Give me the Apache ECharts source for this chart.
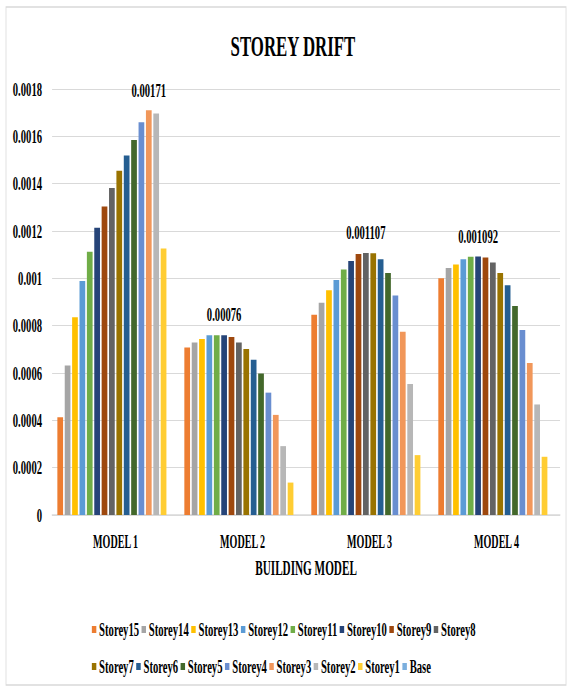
<!DOCTYPE html>
<html>
<head>
<meta charset="utf-8">
<script src="https://cdn.jsdelivr.net/npm/echarts@6/dist/echarts.min.js"></script>
<style>
  html, body { margin: 0; padding: 0; background: #fff; overflow: hidden; }
  #wrap { width: 569px; height: 688px; overflow: hidden; position: relative; }
  /* the chart is laid out wide and compressed horizontally for a condensed look */
  #chart { width: 1016px; height: 688px; transform: scaleX(0.56004); transform-origin: 0 0; }
</style>
</head>
<body>
<div id="wrap"><div id="chart"></div></div>
<script>
const categories = ['MODEL 1', 'MODEL 2', 'MODEL 3', 'MODEL 4'];
const yTicks = [0, 0.0002, 0.0004, 0.0006, 0.0008, 0.001, 0.0012, 0.0014, 0.0016, 0.0018];

const storey15 = [0.000413, 0.000708, 0.000846, 0.001000];
const storey14 = [0.000632, 0.000729, 0.000897, 0.001044];
const storey13 = [0.000836, 0.000744, 0.000950, 0.001058];
const storey12 = [0.000989, 0.000759, 0.000993, 0.001081];
const storey11 = [0.001112, 0.000760, 0.001037, 0.001091];
const storey10 = [0.001214, 0.00076, 0.001073, 0.001092];
const storey9  = [0.001303, 0.000752, 0.001103, 0.001088];
const storey8  = [0.001382, 0.000729, 0.001107, 0.001067];
const storey7  = [0.001455, 0.000701, 0.001106, 0.001023];
const storey6  = [0.001519, 0.000656, 0.001081, 0.000971];
const storey5  = [0.001585, 0.000598, 0.001023, 0.000883];
const storey4  = [0.001660, 0.000517, 0.000927, 0.000782];
const storey3  = [0.00171, 0.000423, 0.000774, 0.000642];
const storey2  = [0.001696, 0.000291, 0.000554, 0.000467];
const storey1  = [0.001126, 0.000137, 0.000253, 0.000246];
const base     = [0, 0, 0, 0];

const seriesNames = ['Storey15', 'Storey14', 'Storey13', 'Storey12', 'Storey11', 'Storey10', 'Storey9', 'Storey8',
                     'Storey7', 'Storey6', 'Storey5', 'Storey4', 'Storey3', 'Storey2', 'Storey1', 'Base'];
const seriesValues = [storey15, storey14, storey13, storey12, storey11, storey10, storey9, storey8,
                      storey7, storey6, storey5, storey4, storey3, storey2, storey1, base];
const seriesColors = ['#ED7D31', '#A5A5A5', '#FFC000', '#5B9BD5', '#70AD47', '#264478', '#9E480E', '#636363',
                      '#997300', '#255E91', '#43682B', '#698ED0', '#F1975A', '#B7B7B7', '#FFCD33', '#7CAFDD'];
// which series carries the value label in each model group
const labelledSeries = ['Storey3', 'Storey10', 'Storey8', 'Storey10'];

const FONT = "'Liberation Serif', 'Times New Roman', serif";

const chart = echarts.init(document.getElementById('chart'), null, { renderer: 'svg' });

const series = seriesNames.map((name, i) => ({
  name: name,
  type: 'bar',
  barGap: '29%',
  barCategoryGap: '8.3%',
  itemStyle: { color: seriesColors[i] },
  label: {
    show: false,
    position: 'top',
    distance: 11,
    fontFamily: FONT,
    fontWeight: 'bold',
    fontSize: 19,
    color: '#000',
    formatter: p => String(p.value)
  },
  data: seriesValues[i].map((v, j) =>
    labelledSeries[j] === name ? { value: v, label: { show: true } } : v)
}));

const legendCommon = {
  orient: 'horizontal',
  left: 164,
  padding: 0,
  itemWidth: 8,
  itemHeight: 7,
  itemGap: 4.3,
  icon: 'rect',
  selectedMode: false,
  textStyle: { fontFamily: FONT, fontWeight: 'bold', fontSize: 19, color: '#000', width: 72 }
};

chart.setOption({
  backgroundColor: '#fff',
  animation: false,
  color: seriesColors,
  title: {
    text: 'STOREY DRIFT',
    left: 518,
    textAlign: 'center',
    top: 25,
    textStyle: { fontFamily: FONT, fontWeight: 'bold', fontSize: 30, color: '#000' }
  },
  legend: [
    Object.assign({ top: 620, data: seriesNames.slice(0, 8) }, legendCommon),
    Object.assign({ top: 657, data: seriesNames.slice(8) }, legendCommon)
  ],
  graphic: [{
    type: 'rect',
    shape: { x: 10.7, y: 7, width: 1000, height: 678 },
    style: { fill: 'none', stroke: '#d9d9d9', lineWidth: 1.4 },
    silent: true
  }],
  grid: { left: 93, right: 16, top: 89, bottom: 173, containLabel: false, outerBoundsMode: 'none' },
  xAxis: {
    type: 'category',
    data: categories,
    name: 'BUILDING MODEL',
    nameLocation: 'middle',
    nameGap: 44,
    nameTextStyle: { fontFamily: FONT, fontWeight: 'bold', fontSize: 20, color: '#000' },
    axisLine: { show: true, lineStyle: { color: '#d9d9d9', width: 1.5 } },
    axisTick: { show: false },
    axisLabel: { fontFamily: FONT, fontWeight: 'bold', fontSize: 18, color: '#000', margin: 18 }
  },
  yAxis: {
    type: 'value',
    min: 0,
    max: yTicks[yTicks.length - 1],
    interval: yTicks[1],
    axisLine: { show: false },
    axisTick: { show: false },
    splitLine: { lineStyle: { color: '#d9d9d9', width: 1.2 } },
    axisLabel: {
      fontFamily: FONT, fontWeight: 'bold', fontSize: 19, color: '#000', margin: 18,
      formatter: v => (v === 0 ? '0' : String(+v.toFixed(4)))
    }
  },
  series: series
});
</script>
</body>
</html>
